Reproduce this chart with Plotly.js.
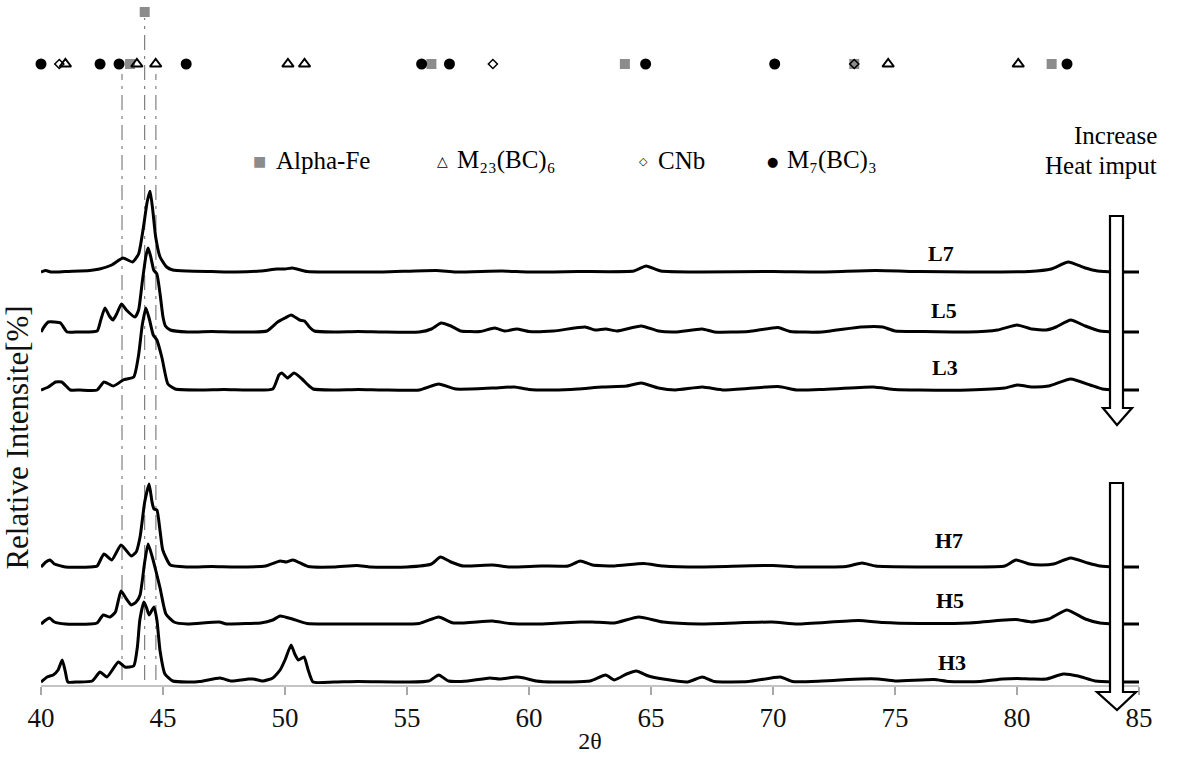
<!DOCTYPE html>
<html>
<head>
<meta charset="utf-8">
<script src="https://cdn.plot.ly/plotly-3.0.1.min.js"></script>
<style>html,body{margin:0;padding:0;background:#fff;}#chart{width:1179px;height:760px;}</style>
</head>
<body>
<div id="chart"></div>
<script>
// ---------- DATA ----------
const xTicks = [40, 45, 50, 55, 60, 65, 70, 75, 80, 85];

const seriesNames = ["L7", "L5", "L3", "H7", "H5", "H3"];
const seriesOffsets = [413, 353, 295, 118, 61, 3];

const L7_x = [40.0, 40.2, 40.4, 41.0, 42.0, 42.4, 42.9, 43.36, 43.75, 44.0, 44.2, 44.35, 44.47, 44.58, 44.7, 44.88, 45.15, 45.4, 46, 47, 48, 49, 49.67, 50.0, 50.3, 50.9, 52, 54, 56.2, 57, 58.9, 60, 62, 64.3, 64.8, 65.4, 67, 70, 72, 74.2, 76, 78, 80.5, 81.4, 82.1, 82.8, 83.3, 84, 85];
const L7_y = [0, 1.5, 0, 0.5, 1.5, 3, 7, 14, 10, 18, 45, 70, 81, 62, 35, 15, 5, 2, 1, 0.5, 0, 1, 3, 3, 4, 0.5, 0, 0, 1.5, 0, 1, 0, 0.5, 1, 6, 1, 0, 0.5, 0, 1.5, 0.5, 0, 0.5, 3, 10, 4, 1, 0, 0];

const L5_x = [40.0, 40.15, 40.3, 40.55, 40.8, 41.07, 41.5, 42.3, 42.45, 42.62, 42.8, 42.95, 43.1, 43.3, 43.5, 43.85, 44.0, 44.15, 44.3, 44.39, 44.5, 44.62, 44.75, 44.88, 45.0, 45.1, 45.3, 46, 47, 48, 49.26, 49.7, 50.0, 50.25, 50.6, 50.8, 51.0, 51.2, 52, 53, 54, 55.5, 56.0, 56.4, 56.8, 57.2, 58.0, 58.6, 59.0, 59.5, 60, 61, 62.3, 62.7, 63.15, 63.6, 64.6, 65.3, 66, 67.1, 67.6, 69, 70.2, 70.7, 72, 73.6, 74.5, 75, 76, 78, 79.2, 80.0, 80.6, 81.2, 81.6, 82.2, 82.8, 83.4, 84, 85];
const L5_y = [0, 6, 10, 10, 9, 0, 0, 1, 12, 24, 16, 12, 18, 28, 22, 15, 22, 50, 76, 84, 75, 62, 58, 38, 15, 6, 2, 0, 0.5, 0, 1, 10, 14, 17, 12, 11, 5, 1, 0, 0.5, 0, 0, 3, 9, 6, 1, 0.5, 4, 1, 3, 0.5, 1, 5, 2, 3, 1, 6, 1, 0, 3, 0, 0.5, 4.5, 0.5, 0, 5, 5, 1, 0.5, 0, 2, 7, 3, 2, 5, 12, 6, 1, 0, 0];

const L3_x = [40.0, 40.3, 40.6, 40.85, 41.2, 41.6, 42.3, 42.58, 42.97, 43.37, 43.8, 44.0, 44.15, 44.3, 44.45, 44.6, 44.75, 44.96, 45.2, 45.5, 46.5, 47.5, 48.5, 49.5, 49.75, 49.87, 50.1, 50.37, 50.7, 50.9, 51.15, 52, 53, 54, 55.5, 56.3, 57, 58.5, 59.4, 60, 61, 62, 63.0, 64.0, 64.6, 65.3, 66, 67.1, 68, 70.2, 71, 72, 74.1, 75, 76, 78, 79.5, 80.0, 80.6, 81.3, 82.2, 83.0, 83.5, 84, 85];
const L3_y = [0, 3, 8, 8, 0, 0, 0, 8, 4, 10, 13, 35, 65, 82, 70, 55, 50, 32, 6, 1, 0, 0.5, 0, 1, 15, 17, 12, 17, 11, 6, 1, 0, 0.5, 0, 0, 6, 1, 2, 3, 0.5, 0, 1, 3, 4, 7, 2, 0, 3, 0, 3.5, 0, 0.5, 3, 0.5, 0, 0, 2, 5, 3, 4, 11, 5, 1, 0, 0];

const H7_x = [40.0, 40.2, 40.37, 40.55, 41.0, 42.0, 42.3, 42.58, 42.9, 43.28, 43.7, 43.9, 44.06, 44.25, 44.43, 44.55, 44.63, 44.75, 44.88, 44.99, 45.3, 46, 47, 48, 49.2, 49.8, 50.05, 50.33, 50.95, 52, 52.95, 53.5, 55, 56.0, 56.37, 56.8, 57.3, 58.5, 59.2, 60.5, 61.6, 62.1, 62.6, 63.5, 64.7, 65.5, 67, 70.0, 71, 73.0, 73.65, 74.2, 76, 78, 79.5, 79.96, 80.5, 81.0, 81.5, 82.2, 82.9, 83.4, 84, 85];
const H7_y = [0, 5, 7, 3, 0, 0, 1, 13, 7, 22, 11, 15, 30, 65, 83, 65, 58, 57, 36, 17, 2, 0, 0.5, 0, 1, 6, 5, 7, 0.5, 0, 1.5, 0, 0, 3, 10, 5, 1, 2, 0, 1, 1, 6, 2, 1, 3.5, 1, 0, 1.5, 0, 0.5, 4, 1, 0, 0, 1, 7, 3, 2, 3, 9, 4, 1, 0, 0];

const H5_x = [40.0, 40.2, 40.35, 40.55, 41.0, 42.0, 42.3, 42.55, 42.83, 43.05, 43.28, 43.5, 43.7, 43.9, 44.06, 44.25, 44.39, 44.55, 44.71, 44.88, 45.12, 45.45, 46, 47.3, 47.6, 48.5, 49.0, 49.5, 49.8, 50.3, 50.9, 52, 54, 55.5, 56.3, 56.9, 58.5, 59.2, 60.5, 62.1, 62.6, 63.5, 64.5, 65.5, 67, 69.95, 71, 73.5, 74.5, 76, 78, 79.5, 79.96, 80.6, 81.3, 82.05, 82.8, 83.4, 84, 85];
const H5_y = [0, 4, 6, 2, 0, 0, 1, 9, 7, 12, 33, 25, 19, 22, 29, 62, 80, 68, 53, 36, 10, 2, 0, 2, 0, 0.5, 1, 4, 8, 5, 0.5, 0, 0, 0.5, 7, 1, 3, 0.5, 0, 2, 2, 1, 7, 2, 0, 2, 0, 3.5, 1.5, 0.5, 1, 4, 4.5, 2, 5, 14, 5, 1, 0, 0];

const H3_x = [40.0, 40.25, 40.5, 40.7, 40.87, 41.0, 41.1, 41.5, 42.1, 42.42, 42.7, 43.17, 43.44, 43.8, 43.95, 44.05, 44.22, 44.33, 44.43, 44.63, 44.75, 44.88, 45.08, 45.4, 46, 46.5, 47.34, 47.8, 48.5, 48.7, 49.1, 49.5, 49.8, 50.0, 50.25, 50.4, 50.55, 50.78, 50.95, 51.15, 52, 53, 55, 55.9, 56.3, 56.7, 57.5, 58.4, 58.8, 59.5, 59.8, 60.3, 61, 62.5, 63.14, 63.5, 64.0, 64.4, 64.9, 65.5, 66.5, 67.1, 67.6, 69, 70.3, 70.8, 72, 73.6, 74.3, 75, 76.6, 77.2, 78.5, 79.4, 80.0, 80.6, 81.2, 81.9, 82.5, 83.2, 84, 85];
const H3_y = [0, 5, 7, 12, 22, 10, 0, 0, 1, 10, 5, 20, 15, 16, 35, 62, 80, 74, 67, 75, 62, 31, 8, 1, 0, 0.5, 4, 1, 3, 3, 1, 4, 12, 22, 37, 28, 22, 25, 12, 0, 0, 0.5, 0, 1, 7, 1, 1, 4, 3, 5, 4, 1, 0, 1, 7, 2, 8, 11, 6, 3, 0, 5, 0.5, 0.5, 5, 0.5, 1, 3, 3, 1, 2.5, 0.5, 0.5, 3, 3.5, 3, 3, 8, 6, 1, 0, 0];

// Phase marker positions (2theta)
const alphaFe_x = [43.65, 56.0, 63.93, 73.33, 81.42];
const alphaFeMain_x = [44.25];
const M23_x = [41.0, 43.93, 44.7, 50.12, 50.8, 74.72, 80.05];
const CNb_x = [40.75, 58.52, 73.33];
const M7_x = [40.0, 42.42, 43.2, 45.95, 55.6, 56.74, 64.78, 70.07, 82.05];

// dashed reference lines (2theta)
const refLines = [43.32, 44.25, 44.71];

// ---------- BUILD ----------
const FONT = "Liberation Serif, 'Times New Roman', serif";
const W = 1179, H = 760;
const PL = 41, PR = 1139, PT = 0, PB = 685;
const xp = px => (px - PL) / (PR - PL);
const yp = py => (PB - py) / (PB - PT);

const seriesX = [L7_x, L5_x, L3_x, H7_x, H5_x, H3_x];
const seriesY = [L7_y, L5_y, L3_y, H7_y, H5_y, H3_y];

const traces = [];
seriesNames.forEach((n, i) => {
  traces.push({
    type: 'scatter', mode: 'lines', name: n,
    x: seriesX[i], y: seriesY[i].map(v => v + seriesOffsets[i]),
    xaxis: 'x', yaxis: 'y',
    line: {color: '#000', width: 3, shape: 'spline', smoothing: 0.5},
    hoverinfo: 'skip'
  });
});

const ROW = 126, TOPROW = 178;
function markerTrace(name, xs, yv, marker) {
  return {type: 'scatter', mode: 'markers', name: name, x: xs, y: xs.map(() => yv),
    xaxis: 'x', yaxis: 'y2', cliponaxis: false, marker: marker, hoverinfo: 'skip'};
}
traces.push(markerTrace('Alpha-Fe', alphaFe_x, ROW, {symbol: 'square', size: 10, color: '#8c8c8c'}));
traces.push(markerTrace('Alpha-Fe', alphaFeMain_x, TOPROW, {symbol: 'square', size: 10, color: '#8c8c8c'}));
traces.push(markerTrace('M23(BC)6', M23_x, ROW, {symbol: 'triangle-up-open', size: 10, color: '#000', line: {width: 2}}));
traces.push(markerTrace('CNb', CNb_x, ROW, {symbol: 'diamond-open', size: 7, color: '#000', line: {width: 1.5}}));
traces.push(markerTrace('M7(BC)3', M7_x, ROW, {symbol: 'circle', size: 11, color: '#000'}));

const shapes = [];
refLines.forEach((v, i) => {
  shapes.push({type: 'line', xref: 'x', yref: 'paper', x0: v, x1: v,
    y0: yp(680), y1: i === 1 ? yp(18) : yp(74),
    line: {color: '#666', width: 1, dash: 'longdashdot'}, layer: 'below'});
});
function arrowPath(pts) {
  return 'M ' + pts.map(p => xp(p[0]).toFixed(5) + ',' + yp(p[1]).toFixed(5)).join(' L ') + ' Z';
}
shapes.push({type: 'path', xref: 'paper', yref: 'paper', layer: 'above',
  path: arrowPath([[1110, 216], [1123, 216], [1123, 408], [1132, 408], [1117, 425], [1103, 408], [1110, 408]]),
  fillcolor: '#fff', line: {color: '#000', width: 2.2}});
shapes.push({type: 'path', xref: 'paper', yref: 'paper', layer: 'above',
  path: arrowPath([[1110, 483], [1123, 483], [1123, 692], [1136, 692], [1117, 710], [1097, 692], [1110, 692]]),
  fillcolor: '#fff', line: {color: '#000', width: 2.2}});

const annotations = [];
// curve labels
const labelPos = [[76.9, 432], [77.0, 375], [77.05, 318], [77.2, 145], [77.25, 85], [77.35, 23]];
seriesNames.forEach((n, i) => {
  annotations.push({xref: 'x', yref: 'y', x: labelPos[i][0], y: labelPos[i][1], text: n,
    showarrow: false, font: {family: FONT, size: 22, color: '#000', weight: 'bold'}});
});
// legend
const leg = [
  {sx: 259, tx: 274, sym: '■', sc: '#8c8c8c', ss: 14, text: 'Alpha-Fe'},
  {sx: 442, tx: 455, sym: '△', sc: '#000', ss: 14, text: 'M₂₃(BC)₆'},
  {sx: 643, tx: 656, sym: '◇', sc: '#000', ss: 11, text: 'CNb'},
  {sx: 772, tx: 785, sym: '●', sc: '#000', ss: 13, text: 'M₇(BC)₃'}
];
leg.forEach(l => {
  annotations.push({xref: 'paper', yref: 'paper', x: xp(l.sx), y: yp(161), text: l.sym, showarrow: false,
    xanchor: 'center', yanchor: 'middle', font: {family: 'DejaVu Sans', size: l.ss, color: l.sc}});
  annotations.push({xref: 'paper', yref: 'paper', x: xp(l.tx), y: yp(160), text: l.text, showarrow: false,
    xanchor: 'left', yanchor: 'middle', font: {family: FONT, size: 25, color: '#000'}});
});
annotations.push({xref: 'paper', yref: 'paper', x: xp(1159), y: yp(135), text: 'Increase', showarrow: false,
  xanchor: 'right', yanchor: 'middle', font: {family: FONT, size: 25, color: '#000'}});
annotations.push({xref: 'paper', yref: 'paper', x: xp(1159), y: yp(165), text: 'Heat imput', showarrow: false,
  xanchor: 'right', yanchor: 'middle', font: {family: FONT, size: 25, color: '#000'}});

const splitFrac = (PB - 190) / (PB - PT);

const layout = {
  width: W, height: H,
  margin: {l: PL, r: W - PR, t: PT, b: H - PB, pad: 0},
  paper_bgcolor: '#fff', plot_bgcolor: '#fff',
  showlegend: false,
  font: {family: FONT, color: '#000'},
  xaxis: {
    range: [40, 85], domain: [0, 1], anchor: 'y',
    tickmode: 'array', tickvals: xTicks, ticktext: xTicks.map(String),
    showline: true, linecolor: '#c4c4c4', linewidth: 2,
    ticks: 'outside', ticklen: 8, tickwidth: 1.5, tickcolor: '#a8a8a8',
    tickfont: {family: FONT, size: 27, color: '#111'},
    showgrid: false, zeroline: false, automargin: false,
    title: {text: '2θ', font: {family: FONT, size: 24, color: '#111'}, standoff: 0}
  },
  yaxis: {
    domain: [0, splitFrac], range: [0, 495], anchor: 'x',
    showticklabels: false, ticks: '', showline: false, showgrid: false, zeroline: false, automargin: false,
    title: {text: 'Relative Intensite[%]', font: {family: FONT, size: 31, color: '#111'}, standoff: 2}
  },
  yaxis2: {
    domain: [splitFrac, 1], range: [0, 190], anchor: 'x', visible: false, showgrid: false, zeroline: false
  },
  shapes: shapes,
  annotations: annotations
};

Plotly.newPlot('chart', traces, layout, {displayModeBar: false, staticPlot: true});
</script>
</body>
</html>
